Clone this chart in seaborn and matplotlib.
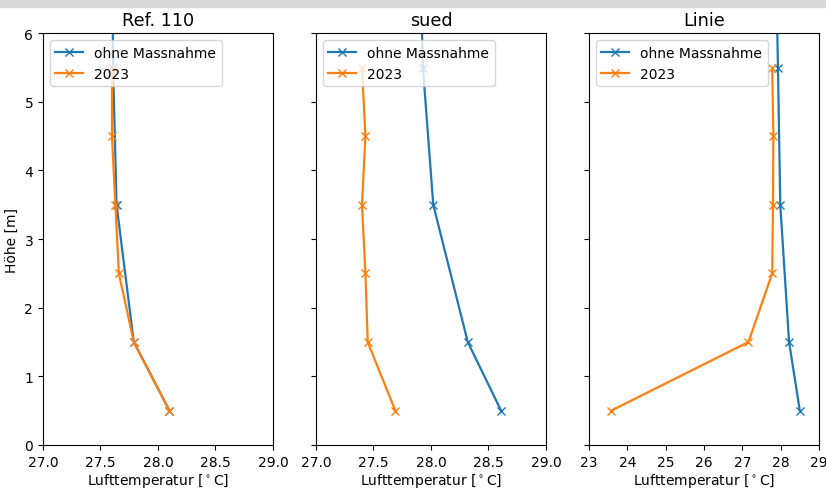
import pandas as pd
import numpy as np
import matplotlib.pyplot as plt
import seaborn as sns
from matplotlib.patches import Rectangle

# Höhen der Messpunkte
hoehe_ohne = [0.5, 1.5, 3.5, 5.5, 7.5]
hoehe_2023 = [0.5, 1.5, 2.5, 3.5, 4.5, 5.5]

# Lufttemperaturen je Standort
panels = ["Ref. 110", "sued", "Linie"]
temp_ohne = {
    "Ref. 110": [28.10, 27.79, 27.64, 27.61, 27.60],
    "sued": [28.61, 28.32, 28.02, 27.93, 27.90],
    "Linie": [28.50, 28.22, 27.99, 27.93, 27.86],
}
temp_2023 = {
    "Ref. 110": [28.10, 27.79, 27.66, 27.63, 27.60, 27.60],
    "sued": [27.69, 27.45, 27.43, 27.40, 27.43, 27.40],
    "Linie": [23.58, 27.16, 27.78, 27.80, 27.81, 27.78],
}
xlims = {"Ref. 110": (27, 29), "sued": (27, 29), "Linie": (23, 29)}
xticks = {"Ref. 110": np.arange(27, 29.01, 0.5),
          "sued": np.arange(27, 29.01, 0.5),
          "Linie": np.arange(23, 30, 1)}

rows = []
for p in panels:
    for h, t in zip(hoehe_ohne, temp_ohne[p]):
        rows.append({"panel": p, "Szenario": "ohne Massnahme", "hoehe": h, "temp": t})
    for h, t in zip(hoehe_2023, temp_2023[p]):
        rows.append({"panel": p, "Szenario": "2023", "hoehe": h, "temp": t})
df = pd.DataFrame(rows)

plt.rcParams["font.size"] = 10
fig, axes = plt.subplots(1, 3, figsize=(8.26, 4.89), dpi=100, sharey=True)
fig.subplots_adjust(left=0.052, right=0.9915, top=0.930, bottom=0.088, wspace=0.187)

for ax, p in zip(axes, panels):
    sub = df[df["panel"] == p]
    sns.lineplot(data=sub, x="temp", y="hoehe", hue="Szenario", orient="y",
                 palette=["tab:blue", "tab:orange"], marker="x", markersize=6,
                 linewidth=1.6, legend=False, ax=ax)
    for line, lab in zip(ax.lines[:2], ["ohne Massnahme", "2023"]):
        line.set_markeredgecolor(line.get_color())
        line.set_markeredgewidth(1.0)
        line.set_label(lab)
    ax.set_title(p, fontsize=12.7)
    ax.set_xlim(*xlims[p])
    ax.set_xticks(xticks[p])
    ax.set_ylim(0, 6)
    ax.set_xlabel("Lufttemperatur [$^\\circ$C]", labelpad=1.5)
    ax.set_ylabel("")
    ax.legend(handles=ax.lines[:2], loc="upper left", fontsize=10)

axes[0].set_ylabel("Höhe [m]")

# grauer Rand oben (Screenshot)
fig.patches.append(Rectangle((0, 1 - 8 / 489), 1, 8 / 489, transform=fig.transFigure,
                             color="#d9d9d9", zorder=-1))

plt.savefig("out.png")
